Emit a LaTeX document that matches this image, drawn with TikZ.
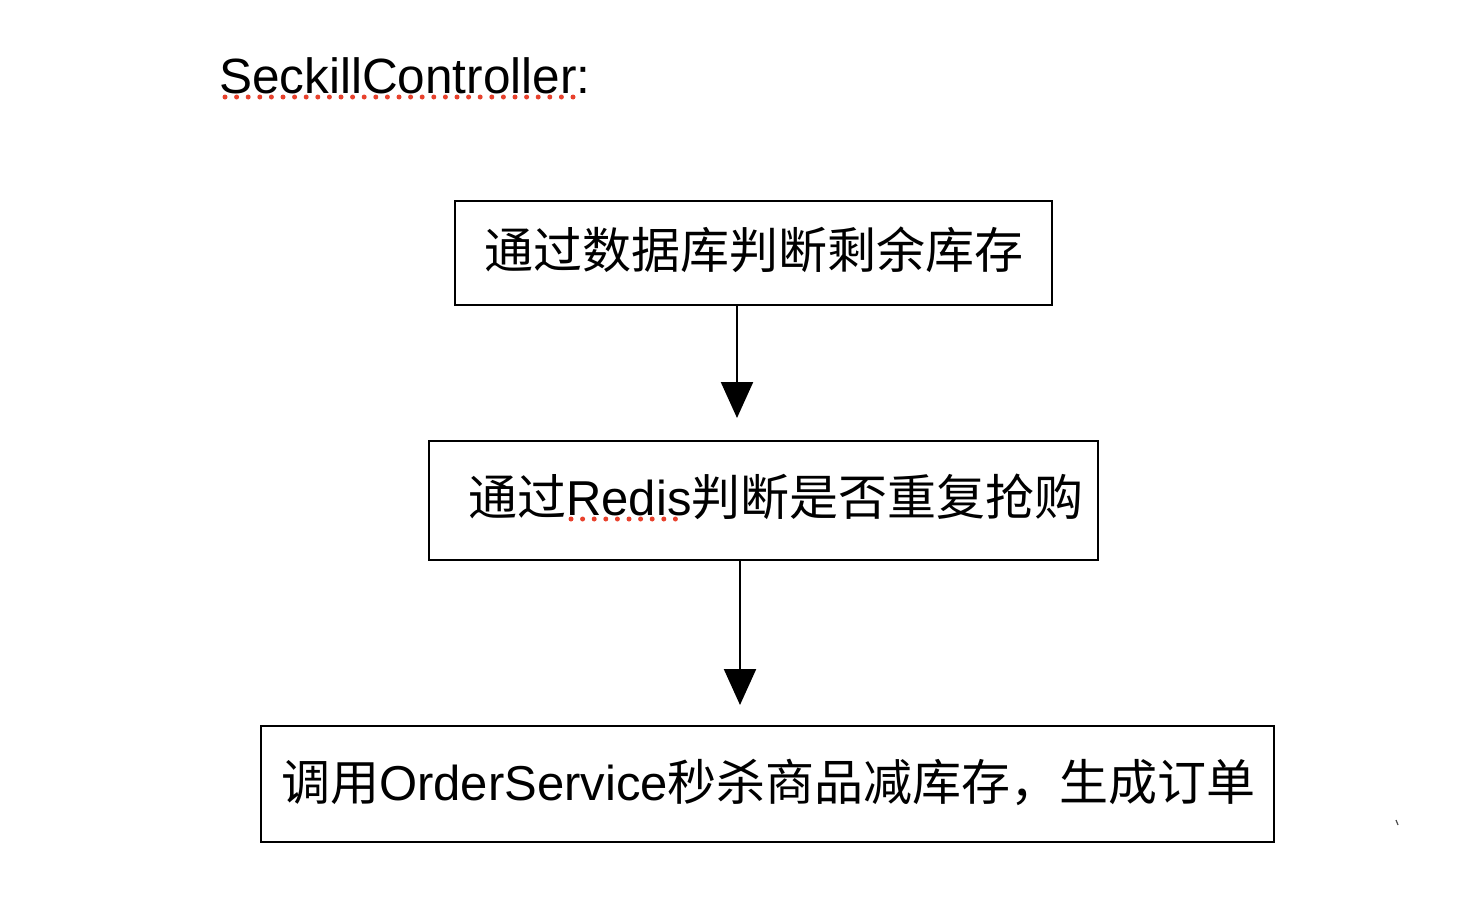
\documentclass[tikz,border=0pt]{standalone}
\usepackage{fontspec}
\setmainfont{Liberation Sans}
\newfontfamily\cjk{Noto Sans CJK SC}
\usetikzlibrary{arrows.meta}
\definecolor{squig}{HTML}{E8412C}
\tikzset{
  box/.style={draw=black, line width=2.4pt, rectangle, inner sep=0pt},
  lbl/.style={inner sep=0pt, font=\fontsize{49}{59}\selectfont},
  arr/.style={line width=2.2pt, -{Triangle[width=32pt,length=36pt]}},
  squiggle/.style={draw=squig, line width=5pt, line cap=round, dash pattern=on 0pt off 11.6pt},
}
\begin{document}
\begin{tikzpicture}[x=1pt,y=-1pt]
\useasboundingbox (0,0) rectangle (1459,902);
% title
\node[inner sep=0pt, anchor=base west, font=\fontsize{49.5}{59}\selectfont] (title) at (219,93) {SeckillController:};
\coordinate (s1a) at (225,97);
\coordinate (s1b) at (574,97);
\draw[squiggle] (s1a) -- (s1b);
% boxes
\node[box, minimum width=597pt, minimum height=104pt] (b1) at (753.5,253) {};
\node[lbl] (t1) at (753.5,250) {\cjk 通过数据库判断剩余库存};
\node[box, minimum width=669pt, minimum height=119pt] (b2) at (763.5,500.5) {};
\node[lbl] (t2) at (776,497) {{\cjk 通过}Redis{\cjk 判断是否重复抢购}};
\coordinate (s2a) at (571,519);
\coordinate (s2b) at (684,519);
\draw[squiggle] (s2a) -- (s2b);
\node[box, minimum width=1013pt, minimum height=116pt] (b3) at (767.5,784) {};
\node[lbl] (t3) at (768.5,782) {{\cjk 调用}OrderService{\cjk 秒杀商品减库存，生成订单}};
% arrows
\coordinate (a1) at (737,418);
\coordinate (a2) at (740,705);
\draw[arr] (b1.south -| a1) -- (a1);
\draw[arr] (b2.south -| a2) -- (a2);
% tiny mark
\coordinate (m1) at (1396,820);
\coordinate (m2) at (1398,825);
\draw[line width=1.2pt, black!70] (m1) -- (m2);
\end{tikzpicture}
\end{document}
